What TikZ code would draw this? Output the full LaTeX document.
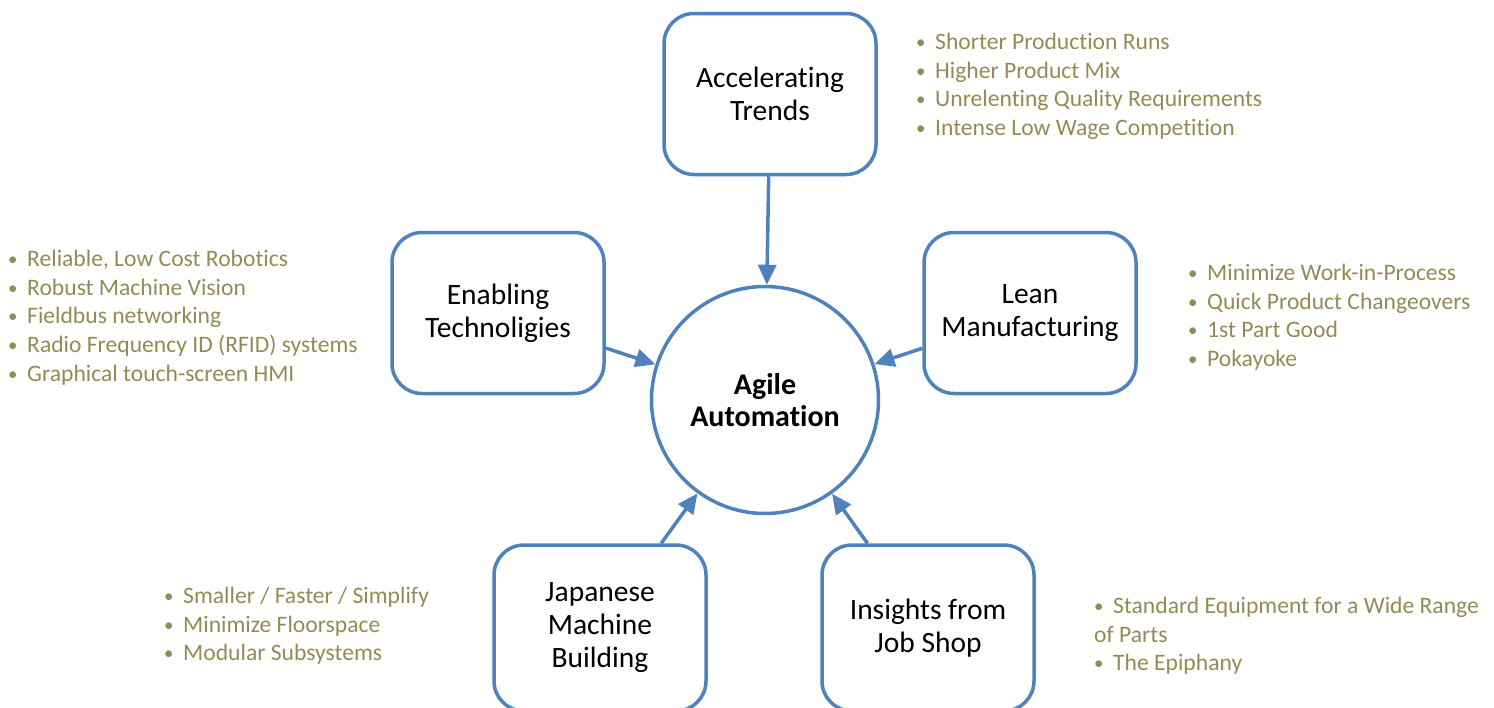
\documentclass[tikz,border=0pt]{standalone}
\usepackage{fontspec}
\setmainfont{Carlito}[Ligatures=NoCommon]
\usetikzlibrary{arrows.meta, positioning}
\definecolor{boxblue}{HTML}{4F81BD}
\definecolor{notetan}{HTML}{948A54}
\newcommand{\bul}{\makebox[19pt][l]{\raisebox{1pt}{\scalebox{0.8}{\textbullet}}}}

\begin{document}
\begin{tikzpicture}[x=1pt, y=-1pt,
      box/.style={rectangle, rounded corners=30pt, draw=boxblue, line width=3.5pt,
                  minimum width=212pt, minimum height=161pt,
                  align=center, font=\fontsize{29.5}{33}\selectfont},
      hub/.style={circle, draw=boxblue, line width=3.5pt, minimum size=227pt,
                  align=center, font=\bfseries\fontsize{30}{32}\selectfont},
      notes/.style={anchor=north west, inner sep=0pt, align=left,
                  text=notetan, font=\fontsize{23.6}{28.7}\selectfont},
      arrow/.style={-{Triangle[length=20pt, width=18pt]}, draw=boxblue, line width=3.5pt}
    ]
        \useasboundingbox (0,0) rectangle (1494,707);
        \node[hub] (agile) at (765,400) {Agile\\Automation};
        \node[box] (trends) at (770,94) {Accelerating\\Trends};
        \node[box] (enabling) at (498,313) {Enabling\\Technoligies};
        \node[box] (lean) at (1030,313) {Lean\\Manufacturing};
        \node[box, minimum height=166pt] (japanese) at (600,628) {Japanese\\Machine\\Building};
        \node[box, minimum height=166pt] (jobshop) at (928,628) {Insights from\\Job Shop};
        \draw[arrow] (trends) -- (agile);
        \draw[arrow] (enabling) -- (agile);
        \draw[arrow] (lean) -- (agile);
        \draw[arrow] (japanese) -- (agile);
        \draw[arrow] (jobshop) -- (agile);
        % bullet notes
        \node[notes] (trendsnotes) at (916,33) {\bul Shorter Production Runs\\\bul Higher Product Mix\\\bul Unrelenting Quality Requirements\\\bul Intense Low Wage Competition};
        \node[notes] (enablingnotes) at (8,250) {\bul Reliable, Low Cost Robotics\\\bul Robust Machine Vision\\\bul Fieldbus networking\\\bul Radio Frequency ID (RFID) systems\\\bul Graphical touch-screen HMI};
        \node[notes] (leannotes) at (1188,264) {\bul Minimize Work-in-Process\\\bul Quick Product Changeovers\\\bul 1st Part Good\\\bul Pokayoke};
        \node[notes] (japanesenotes) at (164,587) {\bul Smaller / Faster / Simplify\\\bul Minimize Floorspace\\\bul Modular Subsystems};
        \node[notes] (jobshopnotes) at (1094,597) {\bul Standard Equipment for a Wide Range\\of Parts\\\bul The Epiphany};
    \end{tikzpicture}
\end{document}
